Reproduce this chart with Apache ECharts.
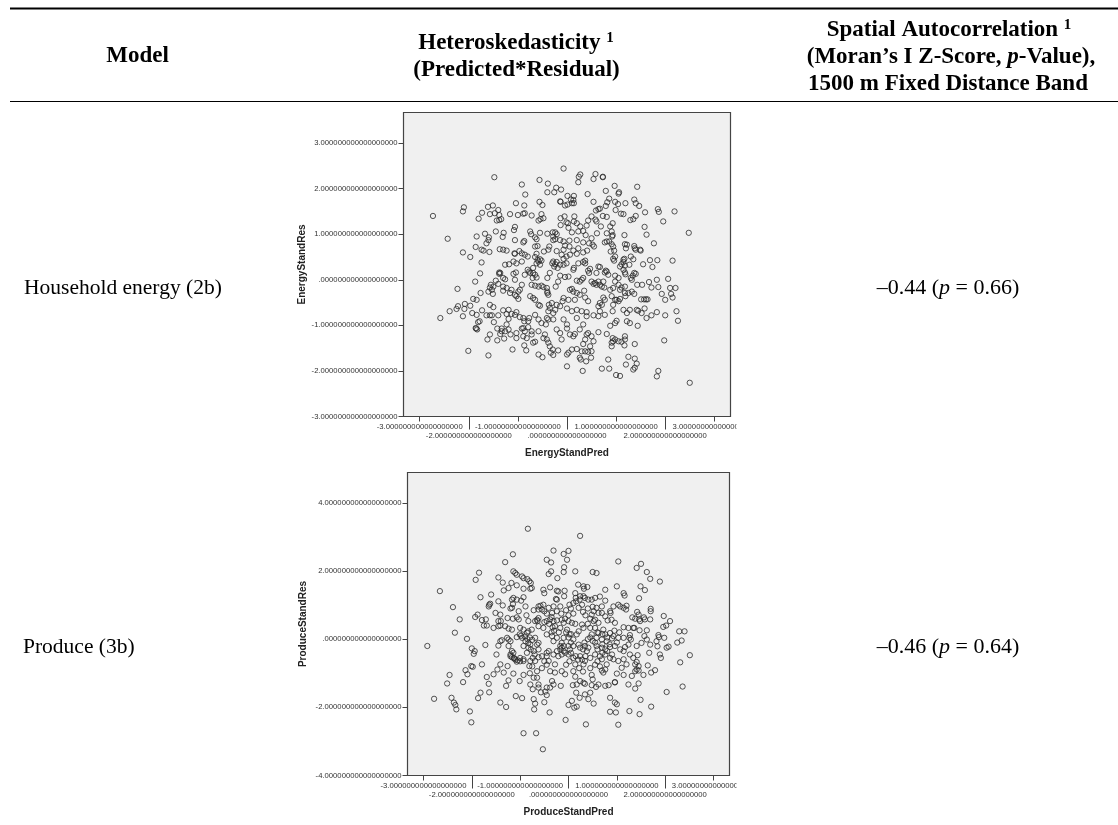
<!DOCTYPE html>
<html><head><meta charset="utf-8">
<style>html,body{margin:0;padding:0;background:#fff}#c{width:1118px;height:825px}</style>
<script src="https://cdn.jsdelivr.net/npm/echarts@6/dist/echarts.min.js"></script>
</head><body><div id="c"></div>
<script>
const energyPoints=[[-2.73,1.40],[-2.43,.90],[-2.58,-.84],[-2.39,-.69],[-2.23,-.20],[-2.25,-.64],[-2.22,-.58],[-2.12,-.80],[-2.09,-.64],[-2.08,-.53],[-1.97,-.57],[-2.12,.60],[-1.97,.50],[-2.12,1.50],[-2.10,1.59],[-2.01,-1.56],[-1.91,-.42],[-1.84,-.44],[-1.93,-.73],[-1.87,-.04],[-1.86,.72],[-1.84,.95],[-1.80,1.34],[-1.73,1.47],[-1.74,.38],[-1.77,.14],[-1.76,-.29],[-1.73,-.67],[-1.84,-.77],[-1.81,-.93],[-1.78,-.91],[-1.85,-1.07],[-1.83,-1.09],[-1.86,-1.06],[-1.64,-.78],[-1.53,-.78],
[-.07,2.44],[-1.48,2.25],[-.56,2.19],[-.92,2.09],[-.39,2.11],[-.22,2.02],[-.12,1.98],[-.40,1.92],[-.26,1.92],[-.85,1.87],[.27,2.31],[.24,2.26],[.23,2.14],[.58,2.32],[.54,2.21],[.73,2.26],[.73,2.25],[.97,2.06],[1.43,2.04],[1.06,1.92],[1.05,1.89],[.42,1.88],[.79,1.95],[.01,1.84],[.14,1.84],[.13,1.75],[.08,1.76],[.14,1.68],[.10,1.68],[.01,1.65],[-.04,1.63],[-.14,1.72],[-.13,1.71],[.86,1.78],[.82,1.70],[.79,1.62],[.54,1.71],[-1.04,1.68],[-.56,1.71],[-.50,1.64],[-.87,1.63],[-1.61,1.60],[-1.51,1.63],[-1.40,1.53],[-1.57,1.44],[-1.47,1.46],[-1.38,1.42],[-1.43,1.30],[-1.34,1.33],[-1.38,1.31],[-1.16,1.44],[-1.0,1.42],[-.89,1.45],[-.86,1.46],[-.72,1.41],[-.52,1.44],[-.58,1.30],[-.48,1.35],[-.54,1.33],[1.37,1.76],[1.40,1.68],[1.47,1.62],[1.19,1.68],[.98,1.71],[1.04,1.66],[.99,1.53],[1.10,1.45],[1.15,1.44],[1.59,1.48],[1.85,1.55],[1.87,1.49],[2.19,1.50],[1.40,1.40],[1.35,1.33],[1.29,1.31],[1.96,1.28],[1.58,1.16],[1.62,.99],[2.48,1.03],[1.77,.80],[.59,1.52],[.64,1.55],[.67,1.56],[.50,1.39],[.43,1.30],[.58,1.32],[.73,1.40],[.81,1.38],[.93,1.24],[.88,1.17],[.69,1.17],[.60,1.28],[-.13,1.35],[-.05,1.39],[.15,1.39],[-.01,1.26],[.02,1.24],[.14,1.28],[-.13,1.20],[.20,1.24],[.27,1.17],[.40,1.19],[.03,1.14],[.33,1.07],[.23,1.06],[.10,1.04],[.38,.98],[.61,1.02],[.81,1.02],[.91,1.06],[.93,.98],[.92,.95],[1.17,.98],[-1.06,1.16],[-1.08,1.09],[-.75,1.06],[-.73,1.00],[-.55,1.03],[-.40,1.01],[-.29,1.04],[-.24,1.04],[-.21,1.0],[-.28,.95],[-.24,.89],[-.28,.87],[-1.45,1.06],[-1.29,1.03],[-1.31,.94],[-1.67,1.01],[-1.59,.93],[-1.60,.87],[-1.64,.80],[-1.74,.66],[-1.70,.64],
[-1.37,.67],[-1.30,.66],[-1.23,.64],[-1.58,.61],[-1.06,.87],[-.87,.85],[-.89,.82],[-.65,.93],[-.62,.89],[-.65,.73],[-.60,.74],[-1.06,.57],[-1.07,.58],[-.97,.63],[-.92,.58],[-.86,.55],[-.80,.51],[-.62,.57],[-.65,.50],[-.47,.62],[-.38,.66],[-.21,.63],[-.36,.73],[-.14,.87],[-.07,.84],[.05,.86],[.20,.87],[.33,.82],[.45,.80],[.50,.91],[.52,.77],[.55,.73],[.05,.73],[-.04,.75],[-.07,.66],[.13,.64],[.23,.69],[.33,.60],[.41,.64],[.20,.57],[-.01,.51],[.06,.55],[-.11,.55],[-.07,.46],[.81,.84],[.77,.82],[.86,.84],[.91,.78],[.94,.73],[.96,.64],[.89,.62],[.98,.51],[.94,.46],[.96,.42],[1.18,.78],[1.22,.77],[1.20,.69],[1.37,.74],[1.38,.69],[1.40,.66],[1.49,.66],[1.50,.64],[1.30,.51],[1.35,.45],[1.69,.43],[1.84,.43],[1.74,.28],[2.15,.42],[1.15,.44],[1.17,.46],[1.15,.39],[1.11,.34],[1.18,.31],[1.27,.33],[1.08,.29],[1.55,.34],[1.37,.15],[1.40,.13],[1.18,.16],[1.19,.12],[1.34,.09],[1.32,0],[1.30,.04],
[-1.26,.33],[-1.18,.34],[-1.03,.36],[-1.09,.40],[-.92,.40],[-1.38,.16],[-1.36,.15],[-1.38,.13],[-1.09,.13],[-1.04,.16],[-1.30,.04],[-1.26,.01],[-1.45,-.02],[-1.06,0],[-.80,.22],[-.77,.18],[-.75,.15],[-.86,.11],[-.69,.15],[-.65,.11],[-.62,.05],[-.70,.04],[-.60,.44],[-.55,.45],[-.58,.40],[-.52,.42],[-.62,.36],[-.55,.33],[-.69,.26],[-.28,.40],[-.30,.36],[-.24,.34],[-.21,.39],[-.26,.29],[-.19,.26],[-.14,.33],[-.07,.33],[-.01,.36],[.14,.26],[.13,.22],[.37,.42],[.33,.39],[.37,.36],[.23,.36],[.43,.20],[.47,.24],[.45,.15],[.64,.29],[.67,.28],[.79,.20],[.77,.16],[.81,.18],[.60,.15],[.33,.04],[.30,0],[.26,-.04],[.20,-.02],[.03,.07],[-.04,.06],[-.14,.09],[-.35,.15],[-.40,.04],[-.18,-.04],[.98,.09],[1.05,.04],[.98,-.04],[1.15,.22],[.84,.11],
[-1.55,-.11],[-1.50,-.15],[-1.57,-.17],[-1.53,-.22],[-1.60,-.26],[-1.51,-.31],[-1.40,-.09],[-1.30,-.15],[-1.23,-.18],[-1.30,-.24],[-1.13,-.22],[-1.16,-.29],[-1.06,-.33],[-.99,-.26],[-.96,-.22],[-.92,-.11],[-1.03,-.36],[-.99,-.42],[-.72,-.11],[-.65,-.13],[-.58,-.15],[-.52,-.13],[-.48,-.16],[-.41,-.18],[-.40,-.26],[-.40,-.29],[-.23,-.15],[.06,-.22],[.10,-.20],[.13,-.26],[.20,-.29],[.26,-.33],[.35,-.24],[.50,-.04],[.54,-.09],[.60,-.11],[.64,-.04],[.67,-.11],[.71,-.15],[.57,-.07],[.74,-.04],[.76,-.17],[.88,-.22],[.94,-.18],[1.05,-.11],[1.11,-.17],[1.08,-.22],[1.18,-.15],[1.18,-.29],[1.25,-.29],[1.19,-.36],[1.32,-.26],[1.37,-.31],[1.43,-.11],[1.53,-.11],[1.67,-.05],[1.72,-.17],[1.83,0],[1.86,-.16],[2.06,.02],[2.10,-.18],[2.21,-.18],[2.12,-.31],[1.93,-.31],[2.15,-.39],[2.0,-.44],[1.51,-.43],[1.57,-.43],[1.61,-.43],[1.64,-.43],[-.69,-.40],[-.75,-.36],[-.65,-.44],[-.58,-.55],[-.55,-.57],[-.38,-.33],[-.37,-.55],[-.31,-.51],[-.07,-.40],[.03,-.44],[.16,-.44],[.37,-.39],[.43,-.47],[-.09,-.47],[-.21,-.55],[.74,-.39],[.77,-.44],[.67,-.51],[.71,-.55],[.64,-.58],[.91,-.36],[.98,-.44],[1.05,-.47],[1.01,-.44],[.94,-.55],[1.08,-.42],
[-1.57,-.55],[-1.50,-.60],[-1.57,-.78],[-1.49,-.93],[-1.40,-.78],[-1.30,-.67],[-1.19,-.66],[-1.23,-.75],[-1.13,-.75],[-1.19,-.86],[-1.03,-.71],[-1.06,-.77],[-.96,-.82],[-.89,-.84],[-.87,-.91],[-.79,-.91],[-.77,-.84],[-.65,-.77],[-.58,-.87],[-.52,-.95],[-.41,-.84],[-.38,-.87],[-.28,-.87],[-.35,-.62],[-.38,-.69],[-.28,-.73],[-.24,-.66],[-.14,-.58],[-.07,-.87],[.10,-.69],[.20,-.66],[.30,-.69],[.40,-.71],[.40,-.80],[.20,-.84],[0,-.63],[.54,-.78],[.64,-.80],[.67,-.69],[.77,-.77],[.93,-.69],[1.01,-.90],[.98,-.95],[.88,-1.01],[1.15,-.66],[1.22,-.73],[1.28,-.66],[1.42,-.66],[1.45,-.68],[1.58,-.63],[1.52,-.73],[1.62,-.84],[1.72,-.78],[1.83,-.71],[2.0,-.78],[2.23,-.69],[2.26,-.90],[1.22,-.91],[1.28,-.95],[1.44,-1.01],
[-1.42,-1.07],[-1.33,-1.13],[-1.36,-1.19],[-1.33,-1.07],[-1.23,-.98],[-1.26,-1.13],[-1.28,-1.29],[-1.42,-1.33],[-1.57,-1.20],[-1.62,-1.31],[-1.19,-1.09],[-1.15,-1.20],[-1.03,-1.17],[-.92,-1.07],[-.89,-1.06],[-.79,-1.04],[-.86,-1.13],[-.72,-1.13],[-.58,-1.13],[-.89,-1.24],[-.82,-1.28],[-.72,-1.20],[-.65,-1.36],[-.69,-1.38],[-1.03,-1.28],[-.87,-1.44],[-.43,-.98],[-.45,-1.20],[-.48,-1.28],[-.41,-1.31],[-.38,-1.38],[-.35,-1.46],[-.21,-1.09],[-.14,-1.17],[-.11,-1.31],[0,-.98],[0,-1.07],[.06,-1.20],[.13,-1.24],[.16,-1.19],[.26,-1.09],[.33,-.98],[.43,-1.17],[.40,-1.20],[.50,-1.24],[.37,-1.31],[.33,-1.41],[.47,-1.46],[.54,-1.35],[.64,-1.15],[.81,-1.19],[.93,-1.28],[.94,-1.35],[.91,-1.38],[.98,-1.31],[.91,-1.46],[1.05,-1.35],[1.11,-1.36],[1.18,-1.24],[1.18,-1.31],[1.17,-1.44],[1.38,-1.41],[1.98,-1.33],
[-1.11,-1.53],[-.83,-1.55],[-1.60,-1.66],[-.58,-1.64],[-.50,-1.70],[-.33,-1.60],[-.28,-1.65],[-.29,-1.53],[-.18,-1.55],[0,-1.64],[.03,-1.60],[.10,-1.53],[.20,-1.52],[.30,-1.57],[.26,-1.71],[.28,-1.75],[.37,-1.57],[.43,-1.58],[.50,-1.57],[.49,-1.71],[.39,-1.79],[.32,-2.0],[0,-1.90],[.71,-1.95],[.86,-1.95],[.84,-1.75],[1.0,-2.09],[1.08,-2.11],[1.25,-1.69],[1.20,-1.86],[1.38,-1.73],[1.42,-1.84],[1.38,-1.93],[1.35,-1.97],[1.86,-2.0],[1.83,-2.12],[2.50,-2.26]];
const producePoints=[[-2.92,-.20],[-2.66,1.41],[-2.78,-1.75],[-2.39,.94],[-2.25,.58],[-2.35,.19],[-2.46,-1.05],[-2.51,-1.30],[-2.18,-1.26],[-2.42,-1.72],[-2.37,-1.86],[-2.34,-1.93],[-2.32,-2.06],[-2.04,-2.12],[-2.01,-2.44],[-2.10,.01],[-2.0,-.27],[-1.94,-.35],[-1.96,-.43],[-2.13,-.91],[-2.09,-1.03],[-2.01,-.79],[-1.98,-.81],[-1.79,-.74],[-1.82,-1.57],[-1.87,-1.73],[-1.92,1.74],[-1.85,1.95],[-1.82,1.23],[-1.93,.65],[-1.88,.72],[-1.79,.56],[-1.71,.58],[-1.75,.40],[-1.69,.40],[-1.72,-.17],[-1.69,-1.11],[-1.65,-1.31],[-1.64,-1.56],[-1.55,-1.03],[-1.60,1.31],[-1.62,1.04],[-1.65,.96],[-1.64,1.01],[-1.55,.33],[-1.51,.77],[-1.45,1.11],[-1.45,1.81],[-1.36,1.66],[-1.31,2.26],[-1.34,1.43],[-1.24,1.50],[-1.18,1.65],[-1.15,2.49],[-1.41,.72],[-1.36,.99],[-1.17,.92],[-1.20,.90],[-1.14,1.21],[-1.15,1.03],[-1.45,.53],[-1.40,.53],[-1.41,.40],[-1.45,.38],[-1.31,.38],[-1.24,.31],[-1.17,.28],[-1.26,.62],[-1.15,.60],[-1.45,-.19],[-1.49,-.45],[-1.41,-.06],[-1.38,-.03],[-1.27,.04],[-1.24,-.01],[-1.20,-.06],[-1.24,-.20],[-1.17,-.35],[-1.14,-.40],[-1.20,-.45],[-1.17,-.53],[-1.12,-.57],[-1.07,-.66],[-.93,-.64],[-1.0,-.55],[-1.41,-.74],[-1.47,-.89],[-1.34,-.98],[-1.26,-.79],[-1.24,-1.21],[-1.29,-1.37],[-1.41,-1.86],[-1.29,-1.99],[-1.14,-1.01],[-1.01,-1.23],[-.93,-1.05],[-1.09,-1.67],[-.96,-1.73],[-.93,-2.76],[-.67,-2.76],[-.53,-3.23],[-.84,3.24],
[-1.14,1.99],[-1.10,1.94],[-1.07,1.89],[-.96,1.84],[-.93,1.79],[-.85,1.76],[-.81,1.70],[-.78,1.65],[-1.07,1.58],[-.93,1.48],[-.79,1.48],[-.76,1.50],[-1.07,1.16],[-.98,1.13],[-.93,1.23],[-.89,.96],[-1.03,.82],[-1.07,.64],[-1.03,.58],[-.87,.70],[-1.17,1.16],[-.72,.85],[-.62,.96],[-.58,.98],[-.62,.87],[-.55,.87],[-.65,.57],[-.62,.62],[-.64,.53],[-.69,.53],[-.83,.53],[-1.0,.33],[-.93,.28],[-.83,.23],[-.76,.28],[-.86,.19],[-1.01,.14],[-1.07,.06],[-.96,.04],[-.89,-.06],[-.83,-.11],[-.79,-.16],[-.69,.04],[-.62,-.11],[-.65,-.16],[-.93,-.20],[-.83,-.25],[-.86,-.40],[-.93,-.59],[-.79,-.64],[-.81,-.79],[-.69,-.64],[-.74,-.55],[-.62,-.53],[-.55,-.50],[-.45,-.40],[-.41,-.35],[-.62,-.30],[-.65,-.94],[-.72,-1.13],[-.79,-1.33],[-.74,-1.47],[-.65,-1.13],[-.62,-1.33],[-.62,-1.42],[-.72,-1.76],[-.69,-1.89],[-.71,-2.06],[-.50,-1.85],[-.57,-1.56],[-.48,-1.54],[-.45,-1.64],[-.39,-2.15],
[-.52,1.45],[-.50,1.35],[-.38,1.52],[-.45,2.33],[-.36,2.25],[-.31,2.60],[-.41,1.91],[-.36,1.99],[-.23,1.79],[-.10,2.50],[0,2.59],[-.03,2.33],[-.09,2.11],[-.10,1.97],[.14,1.99],[.24,3.03],[-.24,1.16],[-.26,1.18],[-.21,1.40],[-.24,1.42],[-.08,1.42],[-.09,1.26],[.02,1.01],[.10,1.06],[.14,1.35],[.15,1.21],[.20,1.60],[.24,1.26],[.31,1.55],[.32,1.48],[.31,1.26],[.34,1.21],[.41,1.16],[.48,1.16],[.55,1.21],[.65,1.25],[.76,1.45],[.76,1.13],[.21,.92],[.28,1.01],[.16,1.11],[.23,1.16],[.39,1.53],[-.50,.82],[-.41,.92],[-.31,.96],[-.34,.77],[-.24,.82],[-.17,.96],[-.52,1.01],[-.45,.53],[-.31,.53],[-.38,.58],[-.24,.55],[-.14,.57],[-.07,.60],[0,.53],[-.10,.48],[.07,.48],[.14,.45],[.28,.43],[.31,.33],[.21,.23],[.17,.14],[-.52,.33],[-.62,.38],[-.45,.14],[-.34,.09],[-.28,.38],[-.17,.33],[-.03,.28],[.02,.14],[.10,-.01],[-.24,.04],[-.10,.04],[-.31,-.06],[-.14,-.11],[-.10,-.20],[-.17,-.30],[-.24,-.35],[-.31,-.45],[-.21,-.50],[-.14,-.45],[-.07,-.40],[-.17,-.20],[-.10,-.35],[-.14,-.25],[-.45,-.50],[-.28,-.74],[-.41,-.64],[0,-.45],[.03,-.30],[.10,-.55],[.14,-.74],[.21,-.16],[.24,-.25],[.24,-.50],[.34,-.20],[.38,-.35],[.34,-.64],[.31,-.74],[.41,-.25],[.45,-.55],[-.38,-.94],[-.28,-.98],[-.14,-.94],[-.07,-1.03],[-.34,-1.23],[-.31,-1.33],[-.38,-1.42],[-.16,-1.37],[-.45,-1.42],[.10,-.94],[.14,-1.10],[.17,-1.33],[.24,-1.23],[.31,-1.28],[.34,-1.31],[.09,-1.35],[.16,-1.57],[.23,-1.72],[.34,-1.62],[.45,-1.57],[.41,-1.76],[.52,-1.89],[.07,-1.81],[0,-1.93],[.12,-2.01],[.17,-1.98],[-.06,-2.37],[.36,-2.50],[.48,-1.05],[.50,-1.18],[.48,-1.35],[.57,-1.40],[.62,-1.33],[.76,-1.37],[.83,-1.35],[.96,-1.27],
[.50,1.97],[.58,1.94],[.52,.82],[.58,.92],[.62,.77],[.69,.96],[.69,.77],[.86,.82],[.93,.96],[.87,.77],[.76,.67],[.81,.55],[.89,.57],[.96,.48],[.55,.57],[.62,.48],[.48,.72],[.52,.53],[.45,.33],[.55,.33],[.62,.18],[.72,.28],[.76,.14],[.86,.18],[.93,.09],[1.03,.04],[.48,.14],[.58,.04],[.69,-.01],[.79,-.06],[1.14,.04],[.58,-.20],[.69,-.25],[.76,-.30],[.86,-.23],[.96,-.20],[1.07,-.30],[1.14,-.35],[.55,-.45],[.65,-.50],[.69,-.59],[.76,-.45],[.86,-.55],[.93,-.59],[1.03,-.64],[1.14,-.59],[.79,-.74],[.76,-.89],[.69,-.92],[.72,-.98],[1.0,-1.01],[1.14,-1.05],[1.10,-.84],[1.20,-.74],[1.31,-1.08],[1.38,-.94],[1.41,-.89],[1.38,-.74],[1.45,-.79],[1.55,-1.05],[1.45,-.92],[.96,-1.26],[.86,-1.72],[.86,-2.13],[.98,-2.15],[.96,-1.86],[1.0,-1.91],[1.03,-2.51],[1.26,-2.11],[1.47,-2.20],[1.49,-1.78],[1.71,-1.98],[1.24,-1.33],[1.38,-1.45],[1.45,-1.30],[2.03,-1.55],[2.36,-1.39],[2.31,-.68],[2.51,-.47],[2.03,-.25],[2.07,-.22],[1.03,2.28],[1.0,1.55],[1.41,2.09],[1.50,2.21],[1.62,1.97],[1.69,1.77],[1.89,1.69],[1.49,1.55],[1.58,1.44],[1.46,1.20],[1.14,1.35],[1.16,1.28],[1.03,1.01],[1.20,.98],[1.14,.92],[1.19,.87],[1.07,.96],[1.32,.64],[1.42,.80],[1.45,.72],[1.38,.60],[1.46,.58],[1.56,.64],[1.70,.89],[1.70,.82],[1.69,.58],[1.58,.58],[1.48,.53],[1.47,.26],[1.62,.26],[1.36,.33],[1.14,.35],[1.24,.33],[1.34,.33],[1.27,.12],[1.26,.04],[1.29,-.01],[1.41,-.20],[1.51,-.11],[1.62,-.01],[1.57,.09],[1.69,-.16],[1.82,-.06],[1.86,.12],[1.87,.06],[1.98,.04],[1.84,-.21],[1.67,-.40],[1.89,-.45],[1.91,-.55],[1.64,-.77],[1.71,-.98],[1.79,-.91],[1.43,-.47],[1.34,-.55],[1.27,-.45],[1.41,-.67],[1.24,-.16],[1.17,-.23],[1.97,.68],[2.10,.53],[1.96,.36],[2.02,.40],[2.29,.23],[2.40,.23],[2.34,-.04],[2.25,-.10],
[-1.2,-.5],[-1.13,-.55],[-1.1,-.6],[-1.05,-.62],[-1.0,-.65],[-.98,.10],[-.9,.08],[-.8,.05],[-.75,-.02],[-.85,0],[-.78,-.3],[-.72,-.35],[-.7,-.45],[-.5,.5],[-.4,.45],[-.33,.35],[-.3,.25],[-.35,.2],[-.2,.2],[-.05,.2],[.05,.15],[0,.05],[.05,-.1],[.1,-.2],[0,-.2],[.05,-.4],[.15,-.5],[.2,-.6],[.28,-.6],[.35,-.5],[.3,-.3],[.33,-.1],[.4,0],[.45,.05],[.5,-.05],[.55,-.1],[.6,-.3],[.7,-.4],[.8,-.35],[.9,-.45],[.6,.2],[.7,.15],[.8,.05],[.9,.02],[1.0,-.1],[.85,-.15],[.7,-.15],[.95,.25],[1.05,.2],[.4,.45],[.45,.6],[.35,.7],[.3,.8],[.4,.9],[.5,.95],[-.45,.75],[-.35,.65],[-.15,.75],[-.05,.85],[.05,.9],[.1,.75],[0,.7],[-.8,-1.0],[-.75,-.8],[-.55,-.85],[-.45,-.75],[-.5,-.65],[-.05,-.75],[.02,-.65],[.22,-.85],[.3,-.95],[.45,-.85],[.55,-.75],[.6,-.65],[.65,-.8]];
const xOddTicks=[-3,-1,1,3];
const xEvenTicks=[-2,0,2];
const energyYTicks=[-3,-2,-1,0,1,2,3];
const produceYTicks=[-4,-2,0,2,4];
const models=['Household energy (2b)','Produce (3b)'];
const moran=[['–0.44','0.66'],['–0.46','0.64']];
const zeros='000000000000000000';
function fmt(v){ if(v===0) return '.'+zeros; return (v<0?'-':'')+Math.abs(v)+'.'+zeros; }
const SANS='"Liberation Sans",Arial,sans-serif', SERIF='"Liberation Serif",serif';
const AX='#444', LBL='#333';
function xAxes(grid,name){
  const base={type:'value',gridIndex:grid,min:-3.33,max:3.33,position:'bottom',splitLine:{show:false},
    axisLine:{onZero:false,lineStyle:{color:AX,width:1}}};
  return [
   {...base,axisTick:{customValues:xOddTicks,length:5,lineStyle:{color:AX,width:1}},
    axisLabel:{customValues:xOddTicks,margin:6.5,fontSize:7.7,color:LBL,fontFamily:SANS,formatter:fmt,hideOverlap:false},
    name,nameLocation:'middle',nameGap:32,nameTextStyle:{fontSize:10,fontWeight:'bold',color:'#222',fontFamily:SANS}},
   {...base,axisTick:{customValues:xEvenTicks,length:13,lineStyle:{color:AX,width:1}},
    axisLabel:{customValues:xEvenTicks,margin:15,fontSize:7.7,color:LBL,fontFamily:SANS,formatter:fmt,hideOverlap:false}}
  ];
}
function yAxis(grid,min,max,ticks,name,gap){
  return {type:'value',gridIndex:grid,min,max,position:'left',splitLine:{show:false},
    axisLine:{onZero:false,lineStyle:{color:AX,width:1}},
    axisTick:{customValues:ticks,length:5,lineStyle:{color:AX,width:1}},
    axisLabel:{customValues:ticks,margin:6,fontSize:7.7,color:LBL,fontFamily:SANS,formatter:fmt,hideOverlap:false},
    name,nameLocation:'middle',nameGap:gap,nameRotate:90,nameTextStyle:{fontSize:10,fontWeight:'bold',color:'#222',fontFamily:SANS}};
}
function scatter(data,x,y){
  return {type:'scatter',data,xAxisIndex:x,yAxisIndex:y,symbol:'circle',symbolSize:5.3,silent:true,
    itemStyle:{color:'rgba(0,0,0,0)',borderColor:'#2a2a2a',borderWidth:.8,opacity:1},animation:false};
}
function txt(x,y,value,extra){
  return {type:'text',x,y,z:100,style:{text:value,x:0,y:0,fontFamily:SERIF,fontSize:21.5,fill:'#000',align:'center',verticalAlign:'middle',...extra}};
}
const HS=23;
const hdr={fontWeight:'bold',fontSize:HS,rich:{sup:{fontWeight:'bold',fontSize:15,fontFamily:SERIF,padding:[0,0,9,0]},b:{fontWeight:'bold',fontSize:HS,fontFamily:SERIF},i:{fontWeight:'bold',fontStyle:'italic',fontSize:HS,fontFamily:SERIF}}};
const bodyRich={rich:{n:{fontSize:22,fontFamily:SERIF},i:{fontSize:22,fontStyle:'italic',fontFamily:SERIF}}};
const chart=echarts.init(document.getElementById('c'),null,{renderer:'canvas'});
chart.setOption({
  animation:false,backgroundColor:'#fff',
  grid:[{left:403.5,top:112.5,width:327,height:304,backgroundColor:'#f0f0f0',borderColor:'#444',borderWidth:1.2,show:true},
        {left:407.5,top:472.5,width:322,height:303,backgroundColor:'#f0f0f0',borderColor:'#444',borderWidth:1.2,show:true}],
  xAxis:[...xAxes(0,'EnergyStandPred'),...xAxes(1,'ProduceStandPred')],
  yAxis:[yAxis(0,-3,3.67,energyYTicks,'EnergyStandRes',95),yAxis(1,-4,4.89,produceYTicks,'ProduceStandRes',99)],
  series:[scatter(energyPoints,0,0),scatter(producePoints,2,1)],
  graphic:[
    {type:'rect',z:90,shape:{x:736.5,y:420,width:40,height:14},style:{fill:'#fff'}},
    {type:'rect',z:90,shape:{x:736.5,y:779,width:40,height:14},style:{fill:'#fff'}},
    {type:'line',z:100,shape:{x1:10,y1:8.5,x2:1118,y2:8.5},style:{stroke:'#000',lineWidth:1.8}},
    {type:'line',z:100,shape:{x1:10,y1:101.5,x2:1118,y2:101.5},style:{stroke:'#000',lineWidth:1.1}},
    txt(137.5,56,'Model',hdr),
    txt(516,43,'{b|Heteroskedasticity }{sup|1}',hdr),
    txt(516.5,70.5,'(Predicted*Residual)',hdr),
    txt(949,30,'{b|Spatial Autocorrelation }{sup|1}',hdr),
    txt(951,57.5,"{b|(Moran’s I Z-Score, }{i|p}{b|-Value),}",hdr),
    txt(948,84.5,'1500 m Fixed Distance Band',hdr),
    txt(24,288,models[0],{align:'left'}),
    txt(23,647.5,models[1],{align:'left'}),
    txt(948,288,'{n|'+moran[0][0]+' (}{i|p}{n| = '+moran[0][1]+')}',bodyRich),
    txt(948,647.5,'{n|'+moran[1][0]+' (}{i|p}{n| = '+moran[1][1]+')}',bodyRich)
  ]
});
</script></body></html>
